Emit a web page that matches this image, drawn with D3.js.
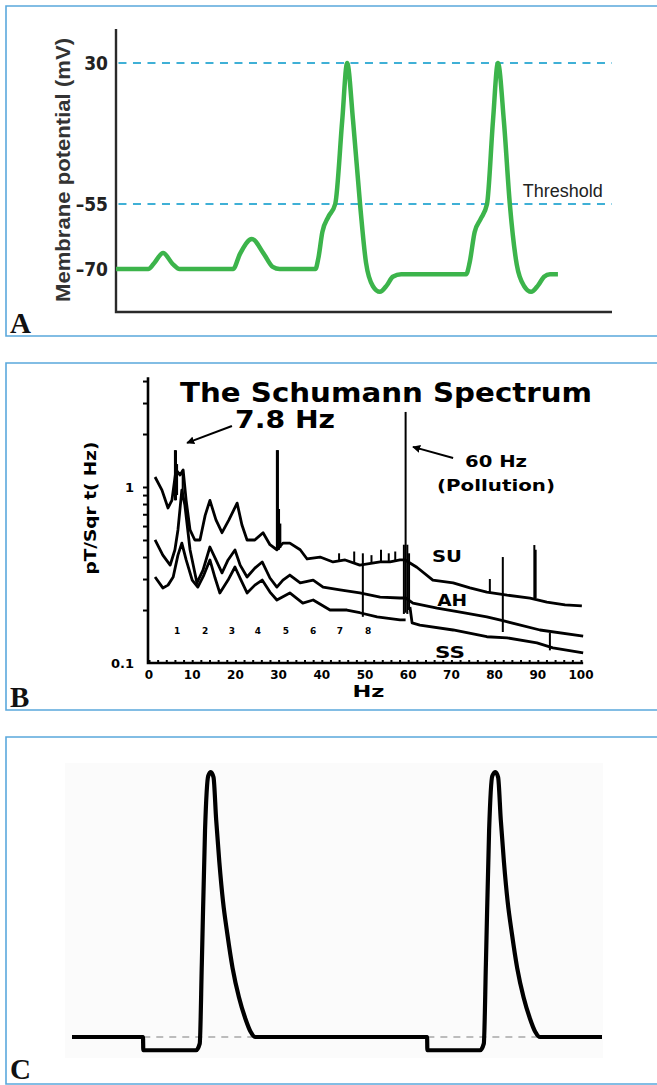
<!DOCTYPE html>
<html>
<head>
<meta charset="utf-8">
<script src="https://cdn.jsdelivr.net/npm/d3@7"></script>
<style>
  body { margin: 0; background: #fff; }
  svg { display: block; }
</style>
</head>
<body>
<div id="figure"></div>
<script>
const width = 657, height = 1085;

// ---------- panel A : membrane potential (time in arbitrary units, mV) ----------
const apTicks = [30, -55, -70];
const apLevels = [30, -55];
const apTrace = [
  [0,-70],[6.5,-70],[7.6,-68.8],[9.5,-66.3],[11.4,-68.8],[12.8,-70],
  [23.6,-70],[25,-66.5],[27.4,-63.1],[29.8,-66.5],[31.6,-69.5],[33,-70],
  [40.2,-70],[40.8,-67.5],[41.6,-61.5],[42.8,-58],[44.2,-55],[45.6,-5],[46.6,30],[47.8,-5],[49.2,-55],
  [50.4,-68.5],[51.8,-74],[53.2,-75.3],[54.6,-73.8],[55.8,-71.8],[57.5,-71.2],
  [70.6,-71.2],[71.3,-68.5],[72.3,-61.5],[73.5,-58.5],[74.8,-55],[76,-5],[77,30],[78.2,-5],[79.4,-55],
  [80.8,-69],[82.3,-74],[83.7,-75.3],[85.1,-73.8],[86.3,-71.8],[87.5,-71.2],[89.1,-71.2]
];

// ---------- panel B : Schumann spectrum (Hz, pT/sqrt(Hz)) ----------
const hzTicks = [0,10,20,30,40,50,60,70,80,90,100];
const ampTicks = [0.1, 1];
const suSpectrum = [
  [1.4,1.14],[3.0,0.96],[4.4,0.76],[5.3,0.84],[6.25,1.25],[7.2,1.17],[7.9,1.25],[8.6,0.84],[9.5,0.57],
  [10.6,0.50],[11.8,0.50],[13,0.69],[14.1,0.84],[15.5,0.65],[16.9,0.55],[18.5,0.65],[20.4,0.81],
  [21.5,0.61],[22.7,0.50],[24.5,0.50],[26.4,0.55],[28,0.47],[29.6,0.44],[31,0.48],[32.6,0.48],
  [35,0.44],[36.6,0.39],[39.6,0.40],[42.6,0.375],[45.4,0.385],[48.8,0.36],[53.5,0.375],[55.8,0.375],
  [58.1,0.385],[59.3,0.385],[60.4,0.37],[62,0.35],[65.7,0.296],[70.4,0.285],[74.3,0.267],[78.2,0.253],
  [82.9,0.243],[88.2,0.234],[92.1,0.222],[96.3,0.214],[100.2,0.211]
];
const ahSpectrum = [
  [1.4,0.50],[3.2,0.41],[4.9,0.36],[6.0,0.44],[6.7,0.57],[7.6,0.96],[8.3,0.79],[9.5,0.44],[11.1,0.285],
  [12.5,0.337],[14.1,0.456],[15.5,0.385],[16.9,0.325],[18.3,0.385],[19.9,0.439],[21.1,0.36],[22.7,0.308],
  [24.5,0.346],[26.2,0.375],[28,0.304],[29.6,0.27],[31,0.296],[32.6,0.316],[35,0.285],[38,0.296],
  [40.3,0.27],[44.2,0.26],[48.8,0.25],[53.5,0.237],[58.1,0.234],[59.4,0.234],[61.1,0.219],[66.7,0.205],
  [72.7,0.193],[78.2,0.183],[81.9,0.174],[90.5,0.154],[100.5,0.142]
];
const ssSpectrumLow = [
  [1.4,0.308],[3.2,0.267],[4.4,0.277],[5.6,0.308],[6.7,0.41],[7.6,0.48],[8.6,0.385],[10,0.296],[11.3,0.27],
  [12.7,0.316],[14.1,0.385],[15.3,0.304],[16.4,0.25],[18.3,0.296],[19.9,0.351],[21.3,0.296],[22.7,0.25],
  [24.5,0.277],[26.2,0.296],[28,0.253],[29.6,0.228],[32.6,0.25],[35.6,0.219],[38,0.228],[41.9,0.20],
  [45.8,0.20],[48.8,0.193],[52.8,0.183],[58.1,0.176],[59.4,0.176]
];
const ssSpectrumHigh = [
  [60.4,0.208],[60.9,0.169],[62.7,0.164],[70.4,0.154],[78.2,0.141],[82.9,0.139],[89.8,0.130],[93.5,0.122],[100.5,0.114]
];
// narrow line peaks: [Hz, top, bottom]
const spikes = [
  [6.0,1.62,0.84],[6.25,1.62,0.84],[6.5,1.35,0.9],[7.8,1.25,0.9],
  [29.6,1.62,0.44],[29.85,1.62,0.44],[30.1,0.75,0.44],[30.4,0.62,0.45],
  [44.0,0.42,0.38],[47.5,0.43,0.37],[49.5,0.42,0.183],[51.5,0.41,0.37],[53.7,0.44,0.375],[55.5,0.42,0.375],[57,0.43,0.38],
  [59.4,2.67,0.193],[59.0,0.47,0.19],[59.8,0.47,0.19],[60.2,0.42,0.2],
  [78.9,0.30,0.253],[81.9,0.40,0.150],[89.2,0.468,0.234],[89.5,0.44,0.234],[92.8,0.148,0.118]
];
const modeLabels = ['1','2','3','4','5','6','7','8'];
const modeHz = [6.5, 13, 19.2, 25.2, 31.7, 38, 44.2, 50.7];

// ---------- panel C : stimulated action potentials (time, mV) ----------
const stimTrace = [
  [0,-70],[13.4,-70],[13.45,-75],[23.4,-75],[24.1,-72.5],[24.5,-42],[25.1,8],[25.7,28.5],[26.2,30],[26.7,28],
  [27.2,12],[27.8,-4],[28.5,-19],[29.3,-31],[30.3,-44],[31.5,-55],[32.7,-63],[33.7,-68],[34.6,-70],
  [67,-70],[67.05,-75],[77,-75],[77.7,-72.5],[78.1,-42],[78.7,8],[79.3,28.5],[79.9,30],[80.4,28],
  [80.9,12],[81.5,-4],[82.2,-19],[83,-31],[84,-44],[85.2,-55],[86.4,-63],[87.4,-68],[88.3,-70],[100,-70]
];
const restSpans = [[13.45,34.6],[67.05,88.3]];

const svg = d3.select('#figure').append('svg')
  .attr('width', width).attr('height', height);

// panel frames
const panels = [
  {label:'A', top:6, bottom:336},
  {label:'B', top:363, bottom:710},
  {label:'C', top:737, bottom:1084}
];
panels.forEach(p => {
  svg.append('path')
    .attr('d', `M${width},${p.top}H6V${p.bottom}H${width}`)
    .attr('fill','none').attr('stroke','#5aa8dc').attr('stroke-width',1.6);
  svg.append('text')
    .attr('x', 10).attr('y', Math.min(p.bottom - 3, height - 6))
    .style('font-family','"Liberation Serif","DejaVu Serif",serif')
    .style('font-weight','bold').style('font-size','29px').style('fill','#111')
    .text(p.label);
});

// ===== panel A =====
const xA = d3.scaleLinear().domain([0,100]).range([116,612]);
const yA = d3.scaleLinear().domain([-80,-70,-55,30]).range([312,269,204,63]);
const gA = svg.append('g');

gA.selectAll('.level').data(apLevels).enter().append('line')
  .attr('x1', xA(0.5)).attr('x2', xA(100))
  .attr('y1', d=>yA(d)).attr('y2', d=>yA(d))
  .attr('stroke','#3fb0d6').attr('stroke-width',2.2).attr('stroke-dasharray','8,6.5');

gA.append('path')
  .attr('d', `M${xA(0)},${yA(50.5)}V${yA(-80)}H${xA(100)}`)
  .attr('fill','none').attr('stroke','#2a2a2a').attr('stroke-width',2.4);

const yAxisA = d3.axisLeft(yA).tickValues(apTicks).tickSize(0).tickPadding(8)
  .tickFormat(d => d < 0 ? '\u2013' + Math.abs(d) : d);
gA.append('g').attr('transform', `translate(${xA(0)},0)`).call(yAxisA)
  .call(g => g.select('.domain').remove())
  .selectAll('text')
  .style('font-family','"Liberation Sans Narrow","DejaVu Sans Condensed",sans-serif')
  .style('font-weight','bold').style('font-size','19px').style('fill','#222');

gA.append('text')
  .attr('transform','translate(70,170) rotate(-90)')
  .attr('text-anchor','middle')
  .attr('textLength', 264).attr('lengthAdjust','spacingAndGlyphs')
  .style('font-family','"Liberation Sans",Arial,sans-serif')
  .style('font-weight','bold').style('font-size','20px').style('fill','#333')
  .text('Membrane potential (mV)');

gA.append('text')
  .attr('x', xA(82)).attr('y', yA(-55) - 7)
  .style('font-family','"Liberation Sans",Arial,sans-serif')
  .style('font-size','18px').style('fill','#222')
  .text('Threshold');

const lineA = d3.line().x(d=>xA(d[0])).y(d=>yA(d[1])).curve(d3.curveMonotoneX);
gA.append('path').datum(apTrace)
  .attr('d', lineA)
  .attr('fill','none').attr('stroke','#3cb44b').attr('stroke-width',4.5)
  .attr('stroke-linejoin','round');

// ===== panel B =====
const xB = d3.scaleLinear().domain([0,100]).range([149,581]);
const yB = d3.scaleLog().domain([0.1,1]).range([663,487]);
const gB = svg.append('g');
const boldFont = '"DejaVu Sans",Verdana,sans-serif';

// axes lines
gB.append('path')
  .attr('d', `M${xB(0)-1},${yB(4.2)}V${yB(0.1)}H${xB(100.5)}`)
  .attr('fill','none').attr('stroke','#000').attr('stroke-width',2.6);

const logTicks = [];
[0.1, 1].forEach(dec => { for (let k = 1; k <= 9; k++) logTicks.push(dec*k); });
const yAxisB = d3.axisLeft(yB).tickValues(logTicks.filter(v => v > 0.1 && v <= 4.2))
  .tickSize(5).tickFormat('');
gB.append('g').attr('transform', `translate(${xB(0)-1},0)`).call(yAxisB)
  .call(g => g.select('.domain').remove())
  .selectAll('line').attr('stroke','#000').attr('stroke-width',2);

gB.selectAll('.ylab').data(ampTicks).enter().append('text')
  .attr('x', xB(0) - 15).attr('y', d=>yB(d) + 5)
  .attr('text-anchor','end')
  .style('font-family',boldFont).style('font-weight','bold').style('font-size','13px')
  .text(d => d);

const minorHz = d3.range(0, 101, 2);
const xAxisB = d3.axisTop(xB).tickValues(minorHz).tickSize(3).tickFormat('');
gB.append('g').attr('transform', `translate(0,${yB(0.1)})`).call(xAxisB)
  .call(g => g.select('.domain').remove())
  .selectAll('line').attr('stroke','#000').attr('stroke-width',2);
gB.selectAll('.xlab').data(hzTicks).enter().append('text')
  .attr('x', d=>xB(d)).attr('y', yB(0.1) + 16)
  .attr('text-anchor','middle')
  .style('font-family',boldFont).style('font-weight','bold').style('font-size','12px')
  .text(d => d);

gB.append('text')
  .attr('x', xB(50.8)).attr('y', 697)
  .attr('text-anchor','middle')
  .attr('textLength', 32).attr('lengthAdjust','spacingAndGlyphs')
  .style('font-family',boldFont).style('font-weight','bold').style('font-size','15px')
  .text('Hz');

gB.append('text')
  .attr('transform','translate(96,508) rotate(-90)')
  .attr('text-anchor','middle')
  .attr('textLength', 133).attr('lengthAdjust','spacingAndGlyphs')
  .style('font-family',boldFont).style('font-weight','bold').style('font-size','15px')
  .text('pT/Sqr t( Hz)');

gB.append('text')
  .attr('x', 180).attr('y', 402)
  .attr('textLength', 412).attr('lengthAdjust','spacingAndGlyphs')
  .style('font-family',boldFont).style('font-weight','bold').style('font-size','26px')
  .text('The Schumann Spectrum');
gB.append('text')
  .attr('x', 235).attr('y', 428)
  .attr('textLength', 100).attr('lengthAdjust','spacingAndGlyphs')
  .style('font-family',boldFont).style('font-weight','bold').style('font-size','24px')
  .text('7.8 Hz');
gB.append('text')
  .attr('x', 496).attr('y', 467).attr('text-anchor','middle')
  .attr('textLength', 62).attr('lengthAdjust','spacingAndGlyphs')
  .style('font-family',boldFont).style('font-weight','bold').style('font-size','15px')
  .text('60 Hz');
gB.append('text')
  .attr('x', 496).attr('y', 491).attr('text-anchor','middle')
  .attr('textLength', 118).attr('lengthAdjust','spacingAndGlyphs')
  .style('font-family',boldFont).style('font-weight','bold').style('font-size','15px')
  .text('(Pollution)');

const seriesLabels = [['SU',65.5,0.375],['AH',66.7,0.21],['SS',66.2,0.107]];
gB.selectAll('.slab').data(seriesLabels).enter().append('text')
  .attr('x', d=>xB(d[1])).attr('y', d=>yB(d[2]))
  .attr('textLength', 30).attr('lengthAdjust','spacingAndGlyphs')
  .style('font-family',boldFont).style('font-weight','bold').style('font-size','15px')
  .text(d => d[0]);

gB.selectAll('.mode').data(modeLabels).enter().append('text')
  .attr('x', (d,i)=>xB(modeHz[i])).attr('y', yB(0.154) + 4)
  .attr('text-anchor','middle')
  .style('font-family',boldFont).style('font-weight','bold').style('font-size','9px')
  .text(d => d);

// arrows
svg.append('defs').append('marker')
  .attr('id','head').attr('viewBox','0 0 10 10').attr('refX',9).attr('refY',5)
  .attr('markerWidth',4).attr('markerHeight',4).attr('orient','auto')
  .append('path').attr('d','M0,0L10,5L0,10Z').attr('fill','#000');
const arrows = [[[19.2,2.22],[8.8,1.78]], [[70.4,1.46],[61.1,1.69]]];
gB.selectAll('.arrow').data(arrows).enter().append('line')
  .attr('x1', d=>xB(d[0][0])).attr('y1', d=>yB(d[0][1]))
  .attr('x2', d=>xB(d[1][0])).attr('y2', d=>yB(d[1][1]))
  .attr('stroke','#000').attr('stroke-width',2)
  .attr('marker-end','url(#head)');

const lineB = d3.line().x(d=>xB(d[0])).y(d=>yB(d[1]));
[suSpectrum, ahSpectrum, ssSpectrumLow, ssSpectrumHigh].forEach(s => {
  gB.append('path').datum(s).attr('d', lineB)
    .attr('fill','none').attr('stroke','#000').attr('stroke-width',2.8)
    .attr('stroke-linejoin','round');
});
gB.selectAll('.spike').data(spikes).enter().append('line')
  .attr('x1', d=>xB(d[0])).attr('x2', d=>xB(d[0]))
  .attr('y1', d=>yB(d[1])).attr('y2', d=>yB(d[2]))
  .attr('stroke','#000').attr('stroke-width',2);

// ===== panel C =====
const xC = d3.scaleLinear().domain([0,100]).range([72,602]);
const yC = d3.scaleLinear().domain([-70,30]).range([1037,772]);
const gC = svg.append('g');

gC.append('rect')
  .attr('x',65).attr('y',763).attr('width',538).attr('height',295)
  .attr('fill','#fbfbfb');

gC.selectAll('.rest').data(restSpans).enter().append('line')
  .attr('x1', d=>xC(d[0])).attr('x2', d=>xC(d[1]))
  .attr('y1', yC(-70)).attr('y2', yC(-70))
  .attr('stroke','#a8a8a8').attr('stroke-width',1.6).attr('stroke-dasharray','7,6');

const lineC = d3.line().x(d=>xC(d[0])).y(d=>yC(d[1])).curve(d3.curveMonotoneX);
gC.append('path').datum(stimTrace)
  .attr('d', lineC)
  .attr('fill','none').attr('stroke','#000').attr('stroke-width',4.2)
  .attr('stroke-linejoin','round');
</script>
</body>
</html>
